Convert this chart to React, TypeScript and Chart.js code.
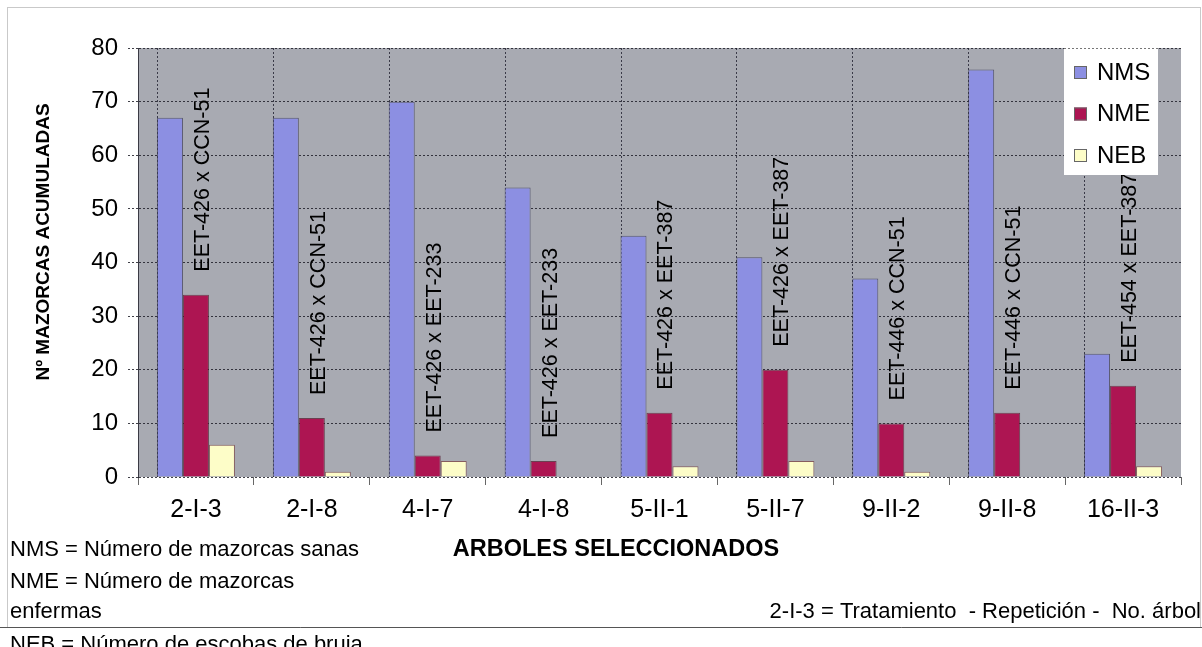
import React, { useEffect, useRef } from "react";
import { Chart, registerables } from "chart.js";

Chart.register(...registerables);

const categories = ["2-I-3", "2-I-8", "4-I-7", "4-I-8", "5-II-1", "5-II-7", "9-II-2", "9-II-8", "16-II-3"];
const nmsValues = [67, 67, 70, 54, 45, 41, 37, 76, 23];
const nmeValues = [34, 11, 4, 3, 12, 20, 10, 12, 17];
const nebValues = [6, 1, 3, 0, 2, 3, 1, 0, 2];
const crossLabels = [
  "EET-426 x CCN-51",
  "EET-426 x CCN-51",
  "EET-426 x EET-233",
  "EET-426 x EET-233",
  "EET-426 x EET-387",
  "EET-426 x EET-387",
  "EET-446 x CCN-51",
  "EET-446 x CCN-51",
  "EET-454 x EET-387",
];
const yTicks = [0, 10, 20, 30, 40, 50, 60, 70, 80];
const seriesNames = ["NMS", "NME", "NEB"];
const yTitle = "Nº MAZORCAS ACUMULADAS";
const xTitle = "ARBOLES SELECCIONADOS";
const footnotesLeft = [
  "NMS = Número de mazorcas sanas",
  "NME = Número de mazorcas",
  "enfermas",
  "NEB = Número de escobas de bruja",
];
const footnoteRight = "2-I-3 = Tratamiento  - Repetición -  No. árbol";

const FONT = "'Liberation Sans', Arial, Helvetica, sans-serif";
const colors = ["#8c8fe2", "#ad1552", "#fdfdc8"];

const decorPlugin = {
  id: "decor",
  beforeDraw(chart: any) {
    const { ctx, chartArea, width, height } = chart;
    ctx.save();
    ctx.fillStyle = "#ffffff";
    ctx.fillRect(0, 0, width, height);
    // outer frame
    ctx.strokeStyle = "#c9c9c9";
    ctx.lineWidth = 1;
    ctx.strokeRect(7.5, 7.5, width - 9, 620);
    // plot background
    ctx.fillStyle = "#a8aab2";
    ctx.fillRect(chartArea.left, chartArea.top, chartArea.right - chartArea.left, chartArea.bottom - chartArea.top);
    ctx.restore();
  },
  beforeDatasetsDraw(chart: any) {
    // vertical dotted lines at the left edge of each bar group
    const { ctx, chartArea } = chart;
    const meta = chart.getDatasetMeta(0);
    ctx.save();
    ctx.strokeStyle = "rgba(30,30,45,0.8)";
    ctx.lineWidth = 1;
    ctx.setLineDash([2, 2]);
    meta.data.forEach((el: any) => {
      const x = Math.round(el.x - el.width / 2) + 0.5;
      ctx.beginPath();
      ctx.moveTo(x, chartArea.top);
      ctx.lineTo(x, chartArea.bottom);
      ctx.stroke();
    });
    ctx.restore();
  },
  afterDraw(chart: any) {
    const { ctx } = chart;
    ctx.save();
    // rotated cross labels above NME bars
    const meta = chart.getDatasetMeta(1);
    ctx.fillStyle = "#000";
    ctx.font = `21.5px ${FONT}`;
    meta.data.forEach((el: any, i: number) => {
      ctx.save();
      ctx.translate(el.x + 7, el.y - 23);
      ctx.rotate(-Math.PI / 2);
      ctx.textAlign = "left";
      ctx.textBaseline = "middle";
      ctx.fillText(crossLabels[i], 0, 0);
      ctx.restore();
    });

    // legend box
    const lx = 1064, ly = 48, lw = 94, lh = 127;
    ctx.fillStyle = "#ffffff";
    ctx.fillRect(lx, ly, lw, lh);
    ctx.strokeStyle = "#777";
    ctx.setLineDash([2, 2]);
    ctx.beginPath();
    ctx.moveTo(lx, ly + 0.5);
    ctx.lineTo(lx + lw, ly + 0.5);
    ctx.stroke();
    ctx.setLineDash([]);
    ctx.font = `24px ${FONT}`;
    ctx.textAlign = "left";
    ctx.textBaseline = "middle";
    seriesNames.forEach((name, i) => {
      const cy = ly + 24 + i * 41.5;
      ctx.fillStyle = colors[i];
      ctx.fillRect(lx + 10, cy - 6, 13, 13);
      ctx.strokeStyle = "#666";
      ctx.lineWidth = 1;
      ctx.strokeRect(lx + 10.5, cy - 5.5, 12, 12);
      ctx.fillStyle = "#000";
      ctx.fillText(name, lx + 33, cy + 1);
    });

    // y axis title
    ctx.save();
    ctx.translate(44, 242);
    ctx.rotate(-Math.PI / 2);
    ctx.font = `bold 19px ${FONT}`;
    ctx.textAlign = "center";
    ctx.textBaseline = "middle";
    ctx.fillStyle = "#000";
    ctx.fillText(yTitle, 0, 0);
    ctx.restore();

    // x axis title
    ctx.font = `bold 23.5px ${FONT}`;
    ctx.textAlign = "center";
    ctx.textBaseline = "middle";
    ctx.fillStyle = "#000";
    ctx.fillText(xTitle, 616, 550);

    // footnotes
    ctx.font = `22px ${FONT}`;
    ctx.textAlign = "left";
    const ys = [550, 582, 612, 645];
    footnotesLeft.forEach((t, i) => ctx.fillText(t, 10, ys[i]));
    ctx.textAlign = "right";
    ctx.fillText(footnoteRight, 1201, 612);

    // bottom frame line over the last footnote
    ctx.strokeStyle = "#555";
    ctx.lineWidth = 1;
    ctx.beginPath();
    ctx.moveTo(0, 627.5);
    ctx.lineTo(chart.width, 627.5);
    ctx.stroke();
    ctx.restore();
  },
};

export default function App() {
  const ref = useRef<HTMLCanvasElement | null>(null);
  useEffect(() => {
    document.body.style.margin = "0";
    const canvas = ref.current!;
    const chart = new Chart(canvas, {
      type: "bar",
      data: {
        labels: categories,
        datasets: [
          { label: seriesNames[0], data: nmsValues, backgroundColor: colors[0], borderColor: "rgba(50,50,80,0.7)", borderWidth: 1 },
          { label: seriesNames[1], data: nmeValues, backgroundColor: colors[1], borderColor: "rgba(80,20,40,0.7)", borderWidth: 1 },
          { label: seriesNames[2], data: nebValues, backgroundColor: colors[2], borderColor: "rgba(120,60,60,0.7)", borderWidth: 1 },
        ],
      },
      options: {
        responsive: false,
        animation: false,
        devicePixelRatio: 1,
        layout: { padding: { top: 48, right: 21, left: 0, bottom: 0 } },
        plugins: {
          legend: { display: false },
          tooltip: { enabled: false },
          title: { display: false },
        },
        datasets: { bar: { categoryPercentage: 0.673, barPercentage: 1 } },
        scales: {
          x: {
            grid: {
              display: true,
              drawOnChartArea: false,
              drawTicks: true,
              tickLength: 8,
              color: "rgba(0,0,0,0)",
              tickColor: "#666",
            },
            border: { display: false },
            ticks: { font: { family: FONT, size: 25 }, color: "#000", padding: 10, maxRotation: 0, autoSkip: false },
            afterFit(scale: any) {
              scale.height = 170;
              scale.paddingLeft = 0;
              scale.paddingRight = 0;
            },
          },
          y: {
            min: 0,
            max: 80,
            afterBuildTicks(scale: any) {
              scale.ticks = yTicks.map((v) => ({ value: v }));
            },
            grid: { color: "rgba(30,30,40,0.85)", tickLength: 10, lineWidth: 1, tickBorderDash: [2, 2] } as any,
            border: { display: true, color: "rgba(30,30,40,0.8)", dash: [2, 2] },
            ticks: { font: { family: FONT, size: 24 }, color: "#000", padding: 10 },
            afterFit(scale: any) {
              scale.width = 138;
              scale.paddingTop = 0;
              scale.paddingBottom = 0;
            },
          },
        },
      } as any,
      plugins: [decorPlugin],
    });
    return () => chart.destroy();
  }, []);
  return (
    <div style={{ width: 1202, height: 647 }}>
      <canvas ref={ref} width={1202} height={647} style={{ display: "block" }} />
    </div>
  );
}
